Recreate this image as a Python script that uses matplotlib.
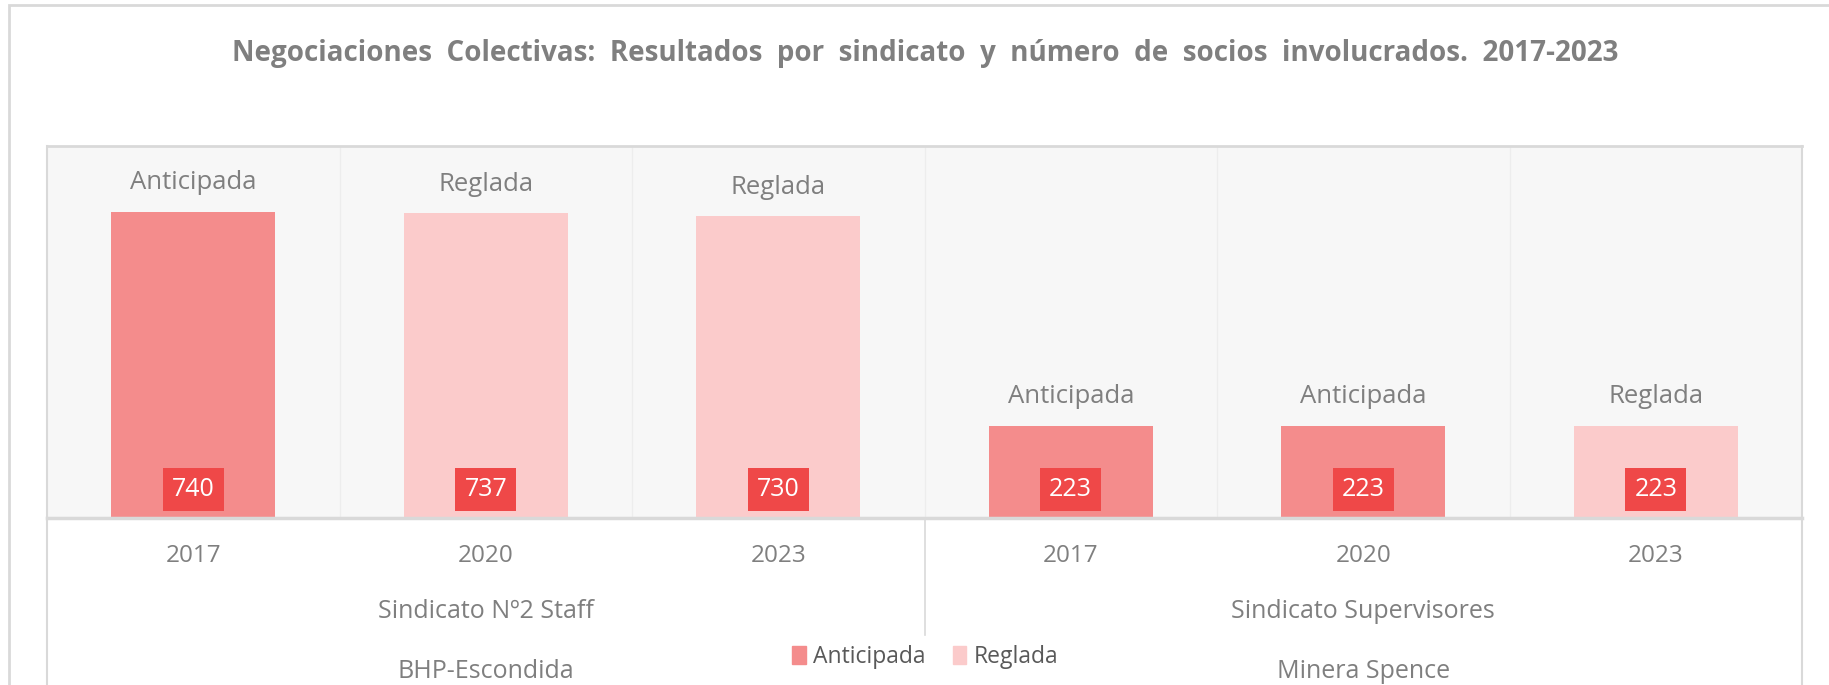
import matplotlib
matplotlib.use("Agg")
import matplotlib.pyplot as plt
import matplotlib.transforms as mtransforms
from matplotlib.patches import Patch, Rectangle
from matplotlib.lines import Line2D

plt.rcParams['font.family'] = ['Open Sans', 'DejaVu Sans']

# datos
sindicatos = ["Sindicato Nº2 Staff", "Sindicato Supervisores"]
empresas = ["BHP-Escondida", "Minera Spence"]
anios = ["2017", "2020", "2023", "2017", "2020", "2023"]
socios = [740, 737, 730, 223, 223, 223]
resultado = ["Anticipada", "Reglada", "Reglada", "Anticipada", "Anticipada", "Reglada"]

colores = {"Anticipada": "#F48C8C", "Reglada": "#FBCBCB"}
gris = "#7F7F7F"
borde = "#D9D9D9"

W, H = 1829, 685
fig = plt.figure(figsize=(W / 100, H / 100), dpi=100)
ax = fig.add_axes([47 / W, 1 - 518 / H, (1802 - 47) / W, (518 - 146) / H])
ax.set_facecolor("#F7F7F7")

x = list(range(len(socios)))
ax.bar(x, socios, width=0.56, color=[colores[r] for r in resultado], zorder=2)
ax.set_xlim(-0.5, len(socios) - 0.5)
ax.set_ylim(0, 900)

# separadores entre categorias
for xs in x[:-1]:
    ax.axvline(xs + 0.5, color="#EDEDED", lw=1, zorder=1)

for i, (v, r) in enumerate(zip(socios, resultado)):
    ax.annotate(r, (i, v), xytext=(0, 21), textcoords="offset points",
                ha="center", va="center", fontsize=18.5, color=gris, zorder=3)
    ax.text(i, 70, str(v), ha="center", va="center", fontsize=18, color="white",
            zorder=3, bbox=dict(boxstyle="square,pad=0.36", fc="#EF4848", ec="none"))

ax.set_xticks([])
ax.set_yticks([])
for s in ["left", "right"]:
    ax.spines[s].set_color(borde)
    ax.spines[s].set_linewidth(1.5)
ax.spines["top"].set_color(borde)
ax.spines["top"].set_linewidth(2)
ax.spines["bottom"].set_color(borde)
ax.spines["bottom"].set_linewidth(2.5)

# etiquetas del eje de categorias
tr = mtransforms.blended_transform_factory(ax.transData, fig.transFigure)
for i, a in enumerate(anios):
    ax.text(i, 1 - 556 / H, a, transform=tr, ha="center", va="center",
            fontsize=17.5, color=gris, clip_on=False)
for g in range(len(sindicatos)):
    xc = g * 3 + 1
    ax.text(xc, 1 - 612 / H, sindicatos[g], transform=tr, ha="center", va="center",
            fontsize=18, color=gris, clip_on=False)
    ax.text(xc, 1 - 671 / H, empresas[g], transform=tr, ha="center", va="center",
            fontsize=18, color=gris, clip_on=False)

fig.add_artist(Line2D([-0.5, -0.5], [1 - 518 / H, 0], transform=tr, color=borde, lw=1.5))
fig.add_artist(Line2D([5.5, 5.5], [1 - 518 / H, 0], transform=tr, color=borde, lw=1.5))
fig.add_artist(Line2D([2.5, 2.5], [1 - 518 / H, 1 - 635 / H], transform=tr, color=borde, lw=1.2))

# borde exterior del grafico
fig.add_artist(Rectangle((9 / W, -0.1), 1.2, 1.1 - 5 / H, transform=fig.transFigure,
                         fill=False, ec=borde, lw=2))

fig.text(925 / W, 1 - 53 / H,
         "Negociaciones  Colectivas:  Resultados  por  sindicato  y  número  de  socios  involucrados.  2017-2023",
         ha="center", va="center", fontsize=20, fontweight="bold", color=gris)

handles = [Patch(color=colores[k]) for k in ["Anticipada", "Reglada"]]
fig.legend(handles, ["Anticipada", "Reglada"], loc="center",
           bbox_to_anchor=(925 / W, 1 - 657 / H), ncol=2, frameon=False,
           fontsize=16.5, labelcolor="#595959", handlelength=0.6, handleheight=0.8,
           handletextpad=0.3, columnspacing=1.2)

fig.savefig("out.png", dpi=100, facecolor="white")
